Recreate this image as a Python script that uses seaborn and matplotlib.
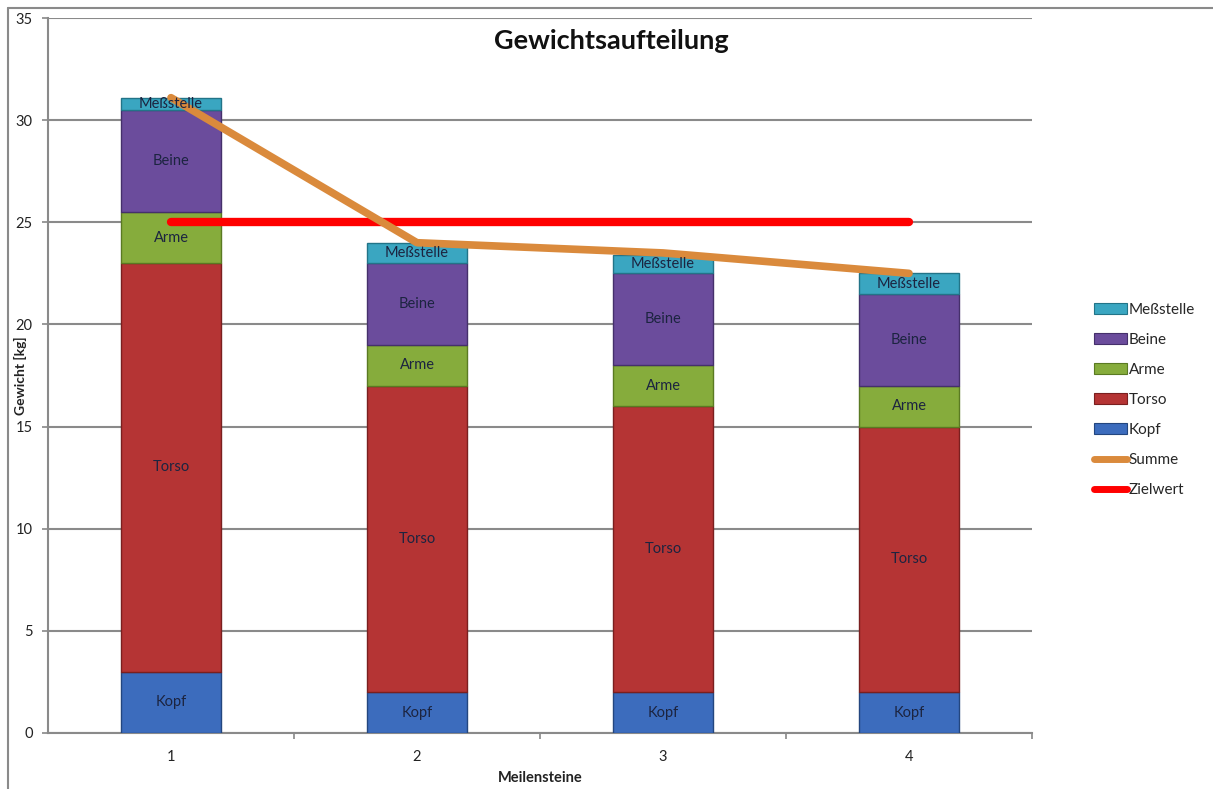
import matplotlib
matplotlib.use("Agg")
import matplotlib.pyplot as plt
import seaborn as sns
import numpy as np
import pandas as pd
from matplotlib.patches import Patch
from matplotlib.lines import Line2D

milestones = ["1", "2", "3", "4"]
kopf = [3.0, 2.0, 2.0, 2.0]
torso = [20.0, 15.0, 14.0, 13.0]
arme = [2.5, 2.0, 2.0, 2.0]
beine = [5.0, 4.0, 4.5, 4.5]
messstelle = [0.6, 1.0, 0.9, 1.0]
summe = [31.1, 24.0, 23.5, 22.5]
zielwert = [25, 25, 25, 25]

series_names = ["Kopf", "Torso", "Arme", "Beine", "Meßstelle"]
series_vals = [kopf, torso, arme, beine, messstelle]
series_cols = ["#3c6cbd", "#b53434", "#86ac3c", "#6b4c9c", "#3aa6c1"]
edge_cols = ["#23467f", "#7a1f1f", "#5a7a22", "#45306b", "#227488"]

sns.set_theme(style="white")
plt.rcParams['font.family'] = ['Lato', 'DejaVu Sans']

fig = plt.figure(figsize=(12.13, 7.89), dpi=100)
ax = fig.add_axes([48/1213, 1-733/789, (1032-48)/1213, (733-18)/789])

bottom = np.zeros(len(milestones))
for name, vals, col, ec in zip(series_names, series_vals, series_cols, edge_cols):
    df = pd.DataFrame({"m": milestones, "v": vals})
    sns.barplot(data=df, x="m", y="v", color=col, bottom=bottom, width=0.41,
                ax=ax, saturation=1, edgecolor=ec, linewidth=1.0, zorder=3)
    for i, v in enumerate(vals):
        ax.text(i, bottom[i] + v/2, name, ha="center", va="center",
                fontsize=10.5, color="#1c2440", zorder=6)
    bottom = bottom + np.array(vals)

xs = np.arange(len(milestones))
sns.lineplot(x=xs, y=summe, color="#da8a3c", linewidth=5.5, ax=ax, zorder=5,
             solid_capstyle="round")
sns.lineplot(x=xs, y=zielwert, color="#ff0000", linewidth=6, ax=ax, zorder=4,
             solid_capstyle="round")

ax.set_xlim(-0.5, 3.5)
ax.set_ylim(0, 35)
ax.set_yticks(range(0, 36, 5))
ax.set_yticklabels([str(v) for v in range(0, 36, 5)], fontsize=10.5, color="#222222")
ax.set_xticks(xs)
ax.set_xticklabels(milestones, fontsize=10.5, color="#222222")
ax.set_xticks([0.5, 1.5, 2.5, 3.5], minor=True)
ax.tick_params(axis="x", which="major", length=0, pad=12)
ax.tick_params(axis="x", which="minor", length=4, color="#888888", width=1.2, direction="out", bottom=True)
ax.tick_params(axis="y", length=4, color="#888888", width=1.2, direction="out", left=True, pad=7)
ax.yaxis.grid(True, color="#8a8a8a", linewidth=1.5, zorder=0)
ax.set_axisbelow(True)
for s in ["top", "right"]:
    ax.spines[s].set_visible(False)
for s in ["left", "bottom"]:
    ax.spines[s].set_color("#8a8a8a")
    ax.spines[s].set_linewidth(1.5)

ax.set_xlabel("Meilensteine", fontsize=10.5, fontweight="bold", color="#222222", labelpad=5)
ax.set_ylabel("Gewicht [kg]", fontsize=10, fontweight="bold", color="#222222")
ax.yaxis.set_label_coords((27-48)/984, 0.5)

ax.text(0.572, 0.968, "Gewichtsaufteilung", transform=ax.transAxes, ha="center", va="center",
        fontsize=19.5, fontweight="bold", color="#111111")

handles = [Patch(facecolor=c, edgecolor=e, linewidth=0.8)
           for c, e in zip(series_cols[::-1], edge_cols[::-1])]
labels = series_names[::-1]
handles += [Line2D([0], [0], color="#da8a3c", linewidth=5),
            Line2D([0], [0], color="#ff0000", linewidth=5)]
labels += ["Summe", "Zielwert"]
leg = fig.legend(handles, labels, loc="center left", bbox_to_anchor=(1080/1213, 1-400/789),
                 frameon=False, fontsize=11, handlelength=2.2, handletextpad=0.1,
                 labelspacing=1.05)

fig.add_artist(Line2D([8/1213, 8/1213], [0, 1-8/789], transform=fig.transFigure,
                      color="#8a8a8a", linewidth=1.5))
fig.add_artist(Line2D([8/1213, 1], [1-8/789, 1-8/789], transform=fig.transFigure,
                      color="#8a8a8a", linewidth=1.5))

fig.savefig("out.png", dpi=100)
